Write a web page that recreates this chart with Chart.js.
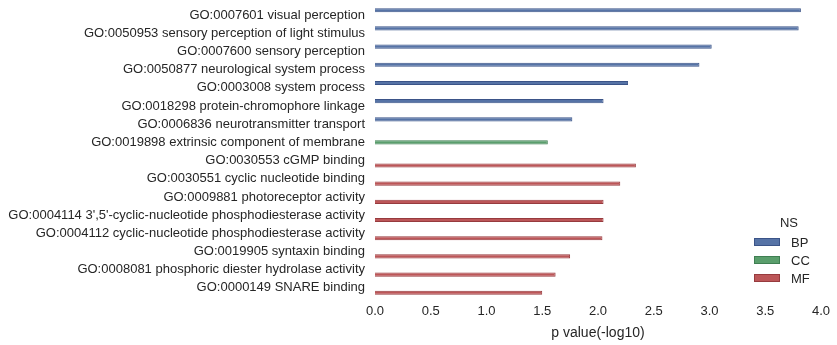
<!DOCTYPE html>
<html>
<head>
<meta charset="utf-8">
<script src="https://cdn.jsdelivr.net/npm/chart.js@4"></script>
<style>
  html, body { margin: 0; padding: 0; background: #fff; }
  #wrap { width: 837px; height: 345px; }
</style>
</head>
<body>
<div id="wrap"><canvas id="goChart"></canvas></div>
<script>
// GO terms, top to bottom
const terms = [
    'GO:0007601 visual perception',
    'GO:0050953 sensory perception of light stimulus',
    'GO:0007600 sensory perception',
    'GO:0050877 neurological system process',
    'GO:0003008 system process',
    'GO:0018298 protein-chromophore linkage',
    'GO:0006836 neurotransmitter transport',
    'GO:0019898 extrinsic component of membrane',
    'GO:0030553 cGMP binding',
    'GO:0030551 cyclic nucleotide binding',
    'GO:0009881 photoreceptor activity',
    "GO:0004114 3',5'-cyclic-nucleotide phosphodiesterase activity",
    'GO:0004112 cyclic-nucleotide phosphodiesterase activity',
    'GO:0019905 syntaxin binding',
    'GO:0008081 phosphoric diester hydrolase activity',
    'GO:0000149 SNARE binding'
];
// namespace of each term
const termNS = ['BP','BP','BP','BP','BP','BP','BP','CC','MF','MF','MF','MF','MF','MF','MF','MF'];
// p value (-log10)
const pValues = [3.82, 3.80, 3.02, 2.91, 2.27, 2.05, 1.77, 1.55, 2.34, 2.20, 2.05, 2.05, 2.04, 1.75, 1.62, 1.50];

const namespaces = ['BP', 'CC', 'MF'];
const xTicks = [0.0, 0.5, 1.0, 1.5, 2.0, 2.5, 3.0, 3.5, 4.0];

const fills   = { BP: '#5673a6', CC: '#5a9e6c', MF: '#bc5658' };
const borders = { BP: '#3b5488', CC: '#3f7f52', MF: '#973b3e' };

// one dataset per namespace, nulls keep the hue slots like seaborn does
const datasets = namespaces.map(ns => ({
    label: ns,
    data: pValues.map((v, i) => termNS[i] === ns ? v : null),
    backgroundColor: fills[ns],
    borderColor: borders[ns],
    borderWidth: 1,
    categoryPercentage: 0.8,
    barPercentage: 0.85
}));

// legend drawn inside the plot area, bottom right
const nsLegend = {
    id: 'nsLegend',
    afterDraw(chart) {
        const ctx = chart.ctx;
        ctx.save();
        ctx.font = '13px "Liberation Sans", Arial, sans-serif';
        ctx.fillStyle = '#262626';
        ctx.textAlign = 'center';
        ctx.textBaseline = 'middle';
        ctx.fillText('NS', 789, 223);
        ctx.textAlign = 'left';
        chart.data.datasets.forEach((ds, i) => {
            const y = 242 + i * 18;
            ctx.fillStyle = ds.backgroundColor;
            ctx.strokeStyle = ds.borderColor;
            ctx.lineWidth = 1;
            ctx.fillRect(754, y - 4, 26, 8);
            ctx.strokeRect(754.5, y - 3.5, 25, 7);
            ctx.fillStyle = '#262626';
            ctx.fillText(ds.label, 791, y + 1);
        });
        ctx.restore();
    }
};

Chart.defaults.font.family = '"Liberation Sans", Arial, sans-serif';
Chart.defaults.color = '#262626';

new Chart(document.getElementById('goChart'), {
    type: 'bar',
    data: { labels: terms, datasets: datasets },
    options: {
        indexAxis: 'y',
        responsive: true,
        maintainAspectRatio: false,
        animation: false,
        layout: { padding: { top: 6, right: 16, bottom: 0, left: 0 } },
        scales: {
            x: {
                min: 0,
                max: 4,
                grid: { display: false, drawTicks: false },
                border: { display: false },
                afterBuildTicks: scale => { scale.ticks = xTicks.map(v => ({ value: v })); },
                ticks: {
                    padding: 7,
                    font: { size: 13 },
                    callback: v => v.toFixed(1)
                },
                title: {
                    display: true,
                    text: 'p value(-log10)',
                    font: { size: 14 },
                    padding: { top: 2, bottom: 3 }
                },
                afterFit: scale => { scale.height = 48; }
            },
            y: {
                grid: { display: false, drawTicks: false },
                border: { display: false },
                ticks: { padding: 10, font: { size: 13 }, autoSkip: false },
                afterFit: scale => {
                    scale.width = 375;
                    scale.paddingTop = 0;
                    scale.paddingBottom = 0;
                }
            }
        },
        plugins: {
            legend: { display: false },
            tooltip: { enabled: false }
        }
    },
    plugins: [nsLegend]
});
</script>
</body>
</html>
